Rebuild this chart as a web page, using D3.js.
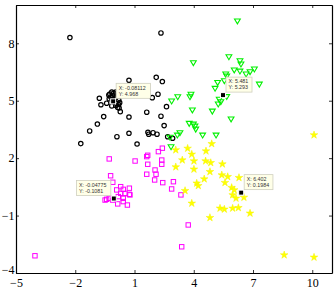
<!DOCTYPE html>
<html>
<head>
<meta charset="utf-8">
<script src="https://cdn.jsdelivr.net/npm/d3@7"></script>
<style>
  html, body { margin: 0; padding: 0; background: #fff; }
  svg { display: block; }
</style>
</head>
<body>
<div id="chart"></div>
<script>
// ---- data ----
var circlePts = [[-2.27,8.30],[2.34,8.54],[0.72,6.07],[2.10,6.22],[2.41,6.00],[-0.78,5.13],[-0.70,4.79],[-0.41,4.87],
  [-0.15,4.73],[0.28,4.43],[-0.56,4.17],[-0.88,3.78],[-1.27,3.42],[-1.72,2.76],[0.72,4.15],[1.62,4.40],[1.90,5.16],
  [2.19,5.34],[2.62,4.69],[2.34,4.19],[2.50,3.70],[0.11,3.12],[0.72,3.30],[1.13,2.74],[1.68,3.35],[1.72,3.25],
  [1.94,3.33],[2.14,3.25],[2.68,3.12],[2.93,3.04],
  [-0.25,5.35],[-0.15,5.45],[-0.05,5.40],[0.00,5.30],[-0.20,5.20],[-0.10,5.25],[0.05,5.45],[-0.30,5.30],
  [-0.28,5.10],[-0.12,5.05],[0.05,5.15],[0.20,5.05],[-0.08,4.97],
  [0.05,4.75],[0.15,4.65],[0.20,4.80],[0.10,4.85],[0.22,4.62],[0.25,4.90]];

var squarePts = [[-0.28,1.96],[1.03,1.85],[1.62,2.08],[1.67,2.15],[1.67,1.68],[2.21,2.34],[2.41,2.52],[2.38,1.90],
  [2.38,1.68],[2.04,1.38],[2.09,1.16],[2.02,0.86],[1.62,1.16],[2.43,0.72],[2.97,0.77],[2.88,0.39],[3.35,0.08],
  [3.72,-1.49],[3.39,-2.63],[-0.21,1.08],[-0.10,0.74],[-4.04,-3.10],
  [0.30,0.51],[0.43,0.37],[0.10,0.34],[0.74,0.43],[0.30,0.16],[0.52,0.16],[0.74,0.11],[0.18,-0.01],[0.43,-0.10],
  [-0.41,-0.15],[-0.49,-0.19],[-0.28,-0.10],[0.43,-0.27],[0.15,-0.39],[0.64,-0.45],[-0.10,-0.19],[0.77,0.08]];

var trianglePts = [[6.21,9.17],[5.78,7.30],[3.98,6.99],[6.34,7.09],[6.39,6.92],[6.05,6.61],[6.34,6.55],[5.62,6.40],
  [5.67,6.29],[6.65,6.40],[6.85,6.52],[7.07,6.66],[7.32,5.87],[5.21,5.96],[5.55,6.05],[5.08,5.65],[5.29,5.08],
  [5.37,4.95],[5.24,4.83],[5.67,5.22],[3.86,5.34],[3.81,5.21],[3.19,5.21],[2.88,4.99],[3.93,4.52],[4.94,4.46],
  [5.89,4.05],[3.77,3.82],[3.98,3.78],[4.06,3.68],[4.10,3.52],[4.45,3.21],[5.13,3.21],[3.30,3.33],[3.17,3.21],
  [2.85,2.60],[2.80,3.10]];

var starPts = [[3.09,2.43],[3.69,2.51],[4.62,2.37],[4.91,2.75],[3.42,1.90],[3.90,2.20],[4.01,1.85],[4.60,1.85],
  [4.86,1.76],[3.09,1.54],[4.01,1.42],[4.82,1.29],[5.45,1.69],[5.42,1.12],[5.72,1.03],[4.53,0.91],[5.58,0.72],
  [4.15,0.69],[4.23,0.56],[6.29,0.98],[5.92,0.46],[6.05,0.34],[5.97,0.08],[6.14,-0.10],[6.54,-0.05],[3.56,0.30],
  [3.90,-0.36],[5.33,-0.62],[5.55,-0.67],[5.97,-0.62],[6.26,-0.59],[6.85,-0.88],[4.82,-1.11],[8.58,-3.06],
  [10.09,-3.18],[10.09,3.21]];

// data tips: value, and which side the label box sits
var tipX = [-0.08112, 5.481, -0.04775, 6.402];
var tipY = [4.968, 5.293, -0.1081, 0.1984];
var tipXText = ["-0.08112", "5.481", "-0.04775", "6.402"];
var tipYText = ["4.968", "5.293", "-0.1081", "0.1984"];
var tipSide = ["right", "right", "left", "right"];

var xTicks = [-5, -2, 1, 4, 7, 10];
var yTicks = [-4, -1, 2, 5, 8];

// ---- layout ----
var W = 335, H = 294;
var x = d3.scaleLinear().domain([-5, 11]).range([16, 332]);
var y = d3.scaleLinear().domain([-4, 10]).range([273, 5]);

var svg = d3.select('#chart').append('svg').attr('width', W).attr('height', H);

var fmt = function(d){ return d < 0 ? "\u2212" + Math.abs(d) : String(d); };

svg.append('g').attr('transform', 'translate(0,' + y.range()[0] + ')')
  .call(d3.axisBottom(x).tickValues(xTicks).tickSizeInner(-3).tickSizeOuter(0).tickPadding(5).tickFormat(fmt));
var yAxisG = svg.append('g').attr('transform', 'translate(' + x.range()[0] + ',0)')
  .call(d3.axisLeft(y).tickValues(yTicks).tickSizeInner(-3).tickSizeOuter(0).tickPadding(1.5).tickFormat(fmt));
svg.append('g').attr('transform', 'translate(0,' + y.range()[1] + ')')
  .call(d3.axisTop(x).tickValues(xTicks).tickSizeInner(-3).tickSizeOuter(0).tickFormat(''));
svg.append('g').attr('transform', 'translate(' + x.range()[1] + ',0)')
  .call(d3.axisRight(y).tickValues(yTicks).tickSizeInner(-3).tickSizeOuter(0).tickFormat(''));

// lowest y label sits just above the first x label, like the original
yAxisG.selectAll('.tick text').filter(function(d){ return d === yTicks[0]; }).attr('dy', '0.05em');

svg.selectAll('.domain').attr('stroke', '#000').attr('stroke-width', 1.2);
svg.selectAll('.tick line').attr('stroke', '#000').attr('stroke-width', 0.8);
svg.selectAll('.tick text').attr('font-family', '"Liberation Serif", "Times New Roman", serif')
  .attr('font-size', 12).attr('fill', '#000');

var plot = svg.append('g');

// black circles
plot.selectAll('circle.c').data(circlePts).enter().append('circle')
  .attr('cx', function(d){ return x(d[0]); })
  .attr('cy', function(d){ return y(d[1]); })
  .attr('r', 2.2)
  .attr('fill', 'none').attr('stroke', '#000').attr('stroke-width', 1.2);

// magenta squares
plot.selectAll('rect.s').data(squarePts).enter().append('rect')
  .attr('x', function(d){ return x(d[0]) - 2.2; })
  .attr('y', function(d){ return y(d[1]) - 2.2; })
  .attr('width', 4.4).attr('height', 4.4)
  .attr('fill', 'none').attr('stroke', '#ff00ff').attr('stroke-width', 1);

// green down-pointing triangles
plot.selectAll('path.t').data(trianglePts).enter().append('path')
  .attr('d', 'M-2.9,-1.9L2.9,-1.9L0,3Z')
  .attr('transform', function(d){ return 'translate(' + x(d[0]) + ',' + y(d[1]) + ')'; })
  .attr('fill', 'none').attr('stroke', '#00f000').attr('stroke-width', 1.1);

// yellow stars
plot.selectAll('path.p').data(starPts).enter().append('path')
  .attr('d', d3.symbol().type(d3.symbolStar).size(18))
  .attr('transform', function(d){ return 'translate(' + x(d[0]) + ',' + y(d[1]) + ')'; })
  .attr('fill', '#ffff00').attr('stroke', '#f4f400').attr('stroke-width', 0.5);

// data tips
var tips = plot.selectAll('g.tip').data(tipX).enter().append('g')
  .attr('transform', function(d, i){ return 'translate(' + x(tipX[i]) + ',' + y(tipY[i]) + ')'; });

tips.append('rect')
  .attr('x', -2.5).attr('y', -2.5).attr('width', 5).attr('height', 5)
  .attr('fill', '#000').attr('stroke', '#fff').attr('stroke-width', 1);

tips.each(function(d, i){
  var g = d3.select(this);
  var l1 = 'X: ' + tipXText[i], l2 = 'Y: ' + tipYText[i];
  var bw = Math.max(l1.length, l2.length) * 2.75 + 4, bh = 15;
  var bx = tipSide[i] === 'right' ? 3 : -bw - 3;
  var by = -bh - 3;
  g.append('rect').attr('x', bx).attr('y', by).attr('width', bw).attr('height', bh)
    .attr('fill', '#ffffe8').attr('stroke', '#cfcfbf').attr('stroke-width', 0.8);
  g.append('text').attr('x', bx + 2.5).attr('y', by + 6.3).text(l1)
    .attr('font-family', '"Liberation Sans", Arial, sans-serif').attr('font-size', 5.3).attr('fill', '#333');
  g.append('text').attr('x', bx + 2.5).attr('y', by + 12.3).text(l2)
    .attr('font-family', '"Liberation Sans", Arial, sans-serif').attr('font-size', 5.3).attr('fill', '#333');
});
</script>
</body>
</html>
